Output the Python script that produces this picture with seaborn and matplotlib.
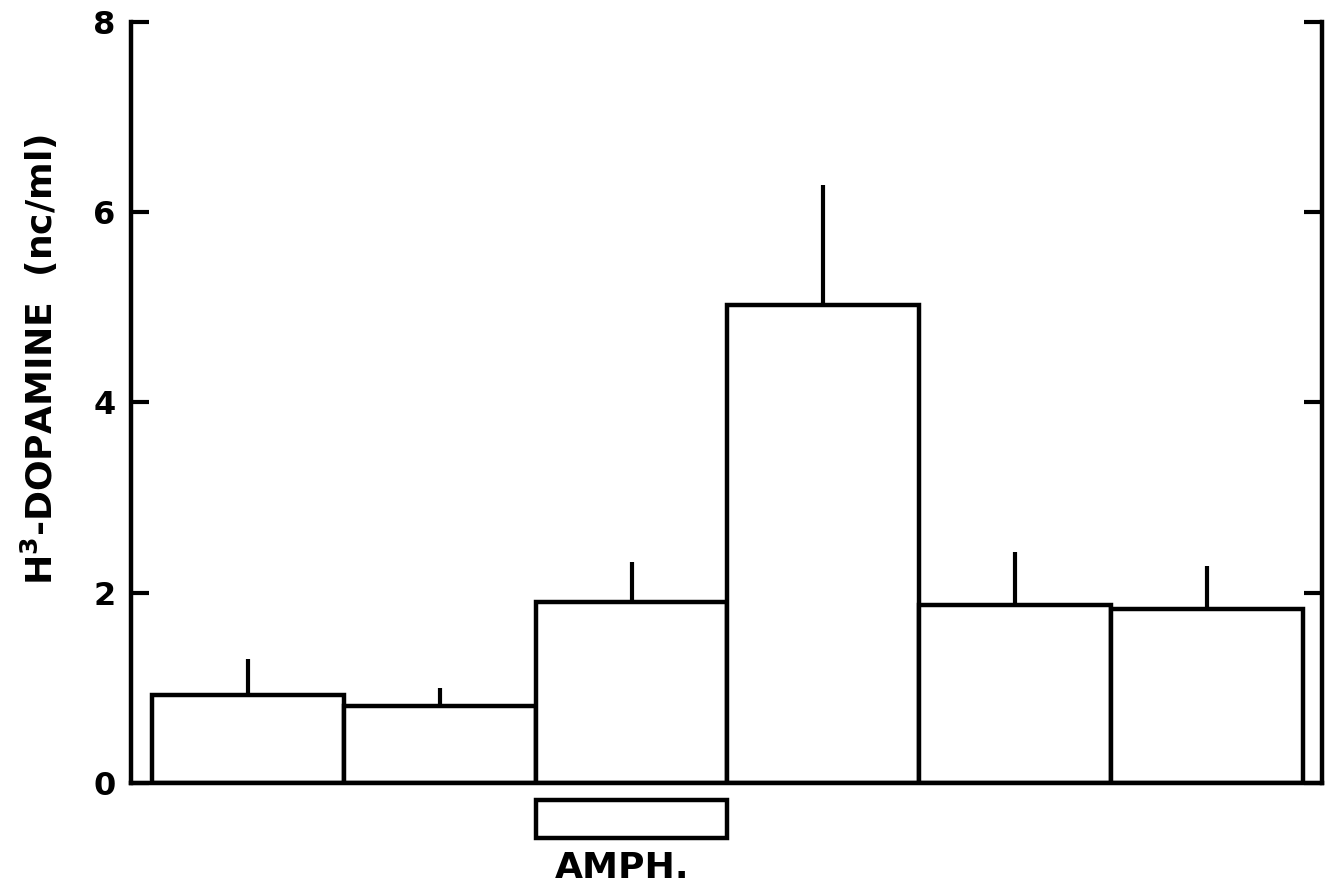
import matplotlib
matplotlib.use("Agg")
import matplotlib.pyplot as plt
import matplotlib.transforms as mtransforms
from matplotlib.patches import Rectangle
import seaborn as sns
import pandas as pd

# Sample periods, mean release and upper error (SEM)
periods = ["P1", "P2", "P3", "P4", "P5", "P6"]
dopamine = [0.93, 0.81, 1.90, 5.02, 1.87, 1.83]
sem = [0.37, 0.19, 0.42, 1.27, 0.56, 0.45]
yticks = [0, 2, 4, 6, 8]
drug_period = "P3"
drug_label = "AMPH."
ylabel = r"H$^{\mathbf{3}}$-DOPAMINE  (nc/ml)"

sns.set_style("white")
plt.rcParams["font.family"] = ["DejaVu Sans"]
plt.rcParams["font.weight"] = "bold"
plt.rcParams["mathtext.default"] = "bf"
plt.rcParams["text.color"] = "black"
plt.rcParams["axes.labelcolor"] = "black"

df = pd.DataFrame({"period": periods, "dopamine": dopamine})

fig = plt.figure(figsize=(13.31, 8.94), dpi=100)
ax = fig.add_axes([0.0984, 0.1242, 0.8948, 0.8512])

sns.barplot(data=df, x="period", y="dopamine", order=periods, width=1.0,
            color="white", edgecolor="black", linewidth=3.2, errorbar=None,
            saturation=1, ax=ax)

# Upward-only error bars
xs = list(range(len(periods)))
ax.errorbar(xs, dopamine, yerr=[[0] * len(sem), sem], fmt="none",
            ecolor="black", elinewidth=3.0, capsize=0, zorder=3)

ax.set_xlim(-0.61, 5.60)
ax.set_ylim(0, 8)
ax.set_yticks(yticks)
ax.set_yticklabels([str(t) for t in yticks], fontsize=23, fontweight="bold",
                   color="black")
ax.set_xticks([])
ax.set_xlabel("")
ax.set_ylabel(ylabel, fontsize=26, fontweight="bold", color="black")
ax.yaxis.set_label_coords(-0.060, 0.556)

ax.tick_params(axis="y", direction="in", length=13, width=3, left=True,
               right=True, labelright=False, pad=11, colors="black")
for side in ("left", "right", "bottom"):
    ax.spines[side].set_visible(True)
    ax.spines[side].set_linewidth(3.2)
    ax.spines[side].set_color("black")
ax.spines["top"].set_visible(False)

# Drug application bar below the axis
i = periods.index(drug_period)
trans = mtransforms.blended_transform_factory(ax.transData, ax.transAxes)
ax.add_patch(Rectangle((i - 0.5, -0.072), 1.0, 0.05, transform=trans,
                       facecolor="white", edgecolor="black", linewidth=3.2,
                       clip_on=False))
ax.text(i - 0.05, -0.112, drug_label, transform=trans, ha="center",
        va="center", fontsize=26, fontweight="bold", color="black")

fig.savefig("out.png", dpi=100, facecolor="white")
